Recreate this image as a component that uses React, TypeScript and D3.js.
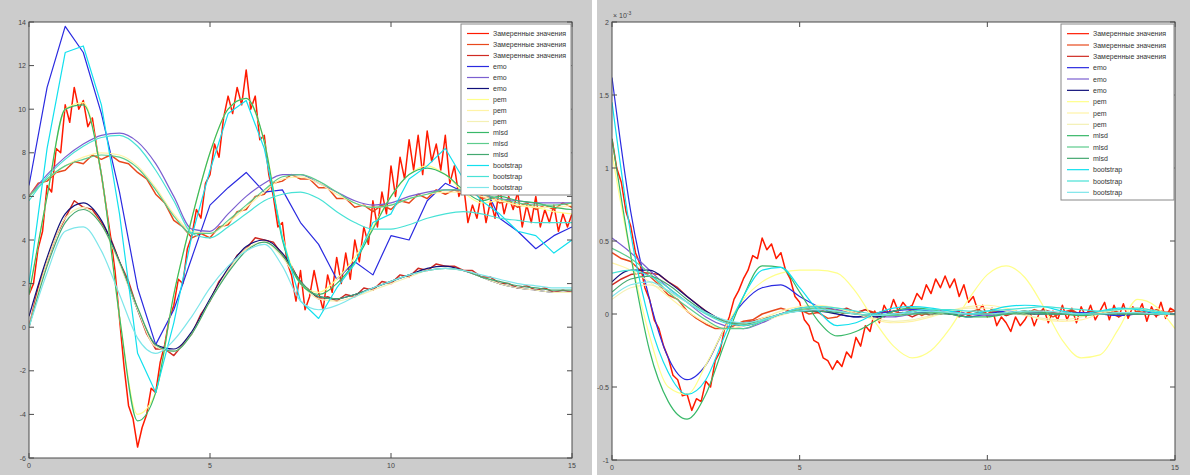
import { line, curveLinear, curveMonotoneX, scaleLinear } from 'd3'

// legend entries (same order as the plotted series)
const legendLabels = [
  'Замеренные значения',
  'Замеренные значения',
  'Замеренные значения',
  'emo',
  'emo',
  'emo',
  'pem',
  'pem',
  'pem',
  'mlsd',
  'mlsd',
  'mlsd',
  'bootstrap',
  'bootstrap',
  'bootstrap',
]

const seriesColors = [
  '#ff1a00',
  '#e8481c',
  '#cf2a22',
  '#2a2ae0',
  '#7b5fd0',
  '#10107a',
  '#ffff8a',
  '#fff3a6',
  '#f4f0b4',
  '#38b868',
  '#5ccc8c',
  '#44a870',
  '#12e0ee',
  '#48e2d6',
  '#7ee6ea',
]

const xTicks = [0, 5, 10, 15]
const leftYTicks = [-6, -4, -2, 0, 2, 4, 6, 8, 10, 12, 14]
const rightYTicks = [-1, -0.5, 0, 0.5, 1, 1.5, 2]

// measured values (left plot): A at step 0.125, B and C at step 0.25
const leftMeasA = [
  1.5, 2.0, 3.6, 4.4, 6.5, 6.2, 8.2, 8.0,
  10.2, 9.4, 11.0, 10.0, 10.4, 9.2, 9.6, 8.2,
  7.0, 5.6, 4.2, 2.6, 0.4, -1.8, -3.6, -4.2,
  -5.5, -4.6, -4.0, -2.8, -3.0, -1.6, -0.8, 0.4,
  1.0, 2.2, 2.0, 3.6, 4.2, 5.4, 5.0, 6.6,
  7.0, 8.4, 7.8, 9.6, 10.6, 9.8, 11.0, 10.2,
  11.8, 10.0, 10.6, 8.6, 8.8, 7.0, 6.0, 4.6,
  4.8, 3.0, 2.4, 1.2, 2.6, 0.8, 1.4, 2.6,
  1.6, 0.8, 2.4, 1.6, 3.2, 2.0, 3.4, 2.2,
  4.0, 3.0, 4.6, 3.8, 5.8, 4.6, 6.2, 5.2,
  7.4, 6.0, 7.8, 6.8, 8.6, 7.2, 8.8, 7.0,
  9.0, 7.6, 8.4, 7.2, 8.8, 6.6, 7.4, 6.0,
  6.6, 4.8, 5.6, 5.0, 6.2, 4.8, 5.8, 5.0,
  6.4, 5.2, 6.0, 5.4, 6.2, 4.6, 5.6, 4.8,
  6.0, 4.6, 5.4, 4.8, 5.6, 4.4, 5.2, 4.6,
  5.2,
]
const leftMeasB = [
  6.0, 6.6, 6.7, 7.1, 7.2, 7.6, 7.5, 7.9, 7.7, 7.9, 7.6, 7.5, 7.1, 6.8, 6.1, 5.7,
  4.9, 4.6, 4.1, 4.3, 4.1, 4.6, 4.7, 5.3, 5.4, 6.0, 6.1, 6.6, 6.7, 7.0, 6.8, 6.8,
  6.4, 6.4, 5.9, 5.9, 5.5, 5.6, 5.3, 5.6, 5.4, 5.8, 5.7, 6.1, 5.9, 6.3, 6.1, 6.3,
  6.1, 6.2, 5.9, 6.0, 5.7, 5.8, 5.5, 5.7, 5.4, 5.6, 5.4, 5.7, 5.5,
]
const leftMeasC = [
  0.0, 1.8, 3.0, 4.2, 5.0, 5.8, 5.5, 5.4, 4.8, 4.1, 3.0, 2.1, 0.8, -0.3, -1.0, -1.0,
  -1.3, -0.8, -0.3, 0.6, 1.2, 2.1, 2.6, 3.3, 3.6, 4.1, 4.0, 3.9, 3.3, 2.8, 2.0, 1.7,
  1.3, 1.4, 1.2, 1.5, 1.4, 1.8, 1.7, 2.1, 2.0, 2.4, 2.3, 2.7, 2.6, 2.9, 2.8, 2.8,
  2.6, 2.6, 2.3, 2.3, 2.0, 2.0, 1.8, 1.9, 1.7, 1.8, 1.6, 1.7, 1.6,
]

// model values, step 0.5 (left plot)
const leftEmoA = [6.5, 11, 13.8, 12.6, 9.8, 6.2, 1.8, -0.8, 0.8, 3.2, 5.6, 6.4, 7.1, 6.2, 6.3, 4.8, 3.8, 2.2, 3.0, 2.4, 4.2, 4.0, 5.8, 6.6, 6.2, 6.8, 5.0, 4.4, 3.6, 4.2, 4.6]
const leftEmoB = [6, 7, 7.8, 8.4, 8.8, 8.9, 8.5, 7.5, 6, 4.5, 4.4, 5.2, 6, 6.6, 7, 7, 6.6, 6.2, 5.8, 5.6, 5.7, 6, 6.2, 6.3, 6.3, 6.1, 5.9, 5.8, 5.7, 5.7, 5.7]
const leftEmoC = [0.5, 3.2, 5.2, 5.7, 4.9, 3, 0.8, -0.8, -1, -0.2, 1.3, 2.7, 3.7, 4, 3.4, 2.1, 1.4, 1.3, 1.5, 1.8, 2.1, 2.4, 2.7, 2.8, 2.6, 2.3, 2, 1.8, 1.7, 1.6, 1.6]
const leftPemA = [1.5, 6, 10, 10.3, 7, 0.5, -4, -3, 1.5, 5, 8, 10, 10.5, 8.5, 4.2, 2, 1.6, 2.2, 3.2, 4.6, 6, 7, 7.4, 7, 6.2, 5.7, 5.8, 5.6, 5.5, 5.3, 5.2]
const leftPemB = [6, 6.8, 7.4, 7.8, 8, 7.9, 7.4, 6.4, 5.2, 4.4, 4.3, 4.8, 5.5, 6.2, 6.8, 6.9, 6.6, 6.1, 5.7, 5.5, 5.6, 5.9, 6.1, 6.2, 6.2, 6.0, 5.8, 5.6, 5.5, 5.5, 5.6]
const leftPemC = [0, 3, 5, 5.5, 4.7, 2.9, 0.8, -0.9, -1.1, -0.3, 1.2, 2.6, 3.6, 3.9, 3.2, 2, 1.3, 1.2, 1.4, 1.7, 2, 2.3, 2.6, 2.7, 2.6, 2.3, 2, 1.8, 1.7, 1.6, 1.6]
const leftMlsdA = [1.5, 6, 10, 10.2, 7, 0.5, -4.3, -3, 1.5, 5, 8, 10, 10.5, 8.5, 4, 2, 1.5, 2, 3, 4.5, 6, 7, 7.3, 7, 6.3, 5.8, 6, 5.8, 5.7, 5.5, 5.4]
const leftMlsdB = [6, 6.8, 7.4, 7.7, 7.9, 7.8, 7.3, 6.3, 5.1, 4.3, 4.3, 4.9, 5.6, 6.3, 6.9, 7, 6.7, 6.2, 5.7, 5.5, 5.6, 5.9, 6.1, 6.3, 6.3, 6.1, 5.9, 5.7, 5.6, 5.6, 5.7]
const leftMlsdC = [0, 2.8, 4.8, 5.4, 4.7, 3, 0.9, -0.8, -1.1, -0.3, 1.2, 2.5, 3.5, 3.9, 3.3, 2.1, 1.4, 1.3, 1.5, 1.8, 2.1, 2.4, 2.6, 2.7, 2.6, 2.3, 2.1, 1.9, 1.8, 1.7, 1.7]
const leftBootA = [2, 8.2, 12.6, 12.9, 10.2, 5.2, -1.2, -3, 0.2, 4.2, 7.2, 9.8, 10.4, 8.2, 4.1, 1.2, 0.4, 1.8, 2.9, 4.8, 5.2, 6.8, 7.4, 8.2, 6.8, 5.8, 5.2, 4.4, 4.2, 3.4, 4]
const leftBootB = [5.8, 6.9, 7.7, 8.3, 8.7, 8.8, 8.3, 7.2, 5.8, 4.3, 4.1, 4.6, 5.2, 5.8, 6.1, 6.2, 5.9, 5.3, 4.8, 4.5, 4.5, 4.7, 5, 5.2, 5.3, 5.2, 5, 4.9, 4.8, 4.8, 4.8]
const leftBootC = [0, 2.5, 4.4, 4.6, 3.5, 1.5, -0.5, -1.2, -0.6, 0.5, 1.8, 2.8, 3.5, 3.8, 2.8, 1.2, 0.8, 1, 1.4, 1.8, 2.1, 2.4, 2.6, 2.7, 2.6, 2.4, 2.2, 2, 1.9, 1.8, 1.8]

// measured values (right plot, x 10^-3): A at step 0.125, B and C at step 0.25
const rightMeasA = [
  1.2, 1.0, 0.9, 0.7, 0.6, 0.42, 0.34, 0.18,
  0.1, -0.04, -0.1, -0.22, -0.3, -0.42, -0.45, -0.56,
  -0.55, -0.66, -0.58, -0.6, -0.46, -0.5, -0.32, -0.26,
  -0.1, -0.02, 0.1, 0.16, 0.24, 0.3, 0.4, 0.38,
  0.52, 0.44, 0.48, 0.38, 0.42, 0.3, 0.24, 0.12,
  0.08, -0.04, -0.08, -0.18, -0.2, -0.3, -0.32, -0.38,
  -0.32, -0.36, -0.26, -0.3, -0.16, -0.22, -0.08, -0.12,
  0.02, -0.06, 0.06, 0.0, 0.1, 0.02, 0.08, 0.04,
  0.06, 0.14, 0.1, 0.2, 0.14, 0.24, 0.18, 0.26,
  0.18, 0.24, 0.12, 0.2, 0.08, 0.12, 0.02, 0.06,
  -0.02, 0.04, -0.08, -0.02, -0.06, -0.12, -0.02, -0.08,
  -0.04, 0.02, -0.08, 0.0, 0.04, -0.06, 0.02, -0.04,
  0.06, -0.04, 0.04, -0.06, 0.05, -0.02, 0.06, -0.04,
  0.02, 0.08, -0.04, 0.06, -0.02, 0.07, -0.03, 0.05,
  0.0, 0.07, -0.05, 0.05, -0.02, 0.08, -0.03, 0.04,
  0.02,
]
const rightMeasB = [
  0.42, 0.38, 0.36, 0.3, 0.26, 0.2, 0.13, 0.1, 0.02, -0.03, -0.07, -0.1, -0.1, -0.08, -0.05, -0.04,
  0.0, 0.02, 0.04, 0.02, 0.03, 0.0, 0.01, -0.03, -0.02, 0.02, 0.0, 0.03, 0.01, -0.02, 0.02, 0.0,
  0.03, -0.01, 0.02, 0.0, 0.02, -0.02, 0.01, 0.03, 0.0, 0.03, -0.01, 0.02, 0.0, 0.03, 0.01, -0.02,
  0.01, 0.03, -0.01, 0.02, 0.0, 0.03, 0.01, -0.01, 0.02, 0.0, 0.03, 0.01, 0.02,
]
const rightMeasC = [
  0.2, 0.24, 0.27, 0.28, 0.28, 0.27, 0.22, 0.18, 0.12, 0.07, 0.02, -0.02, -0.05, -0.06, -0.06, -0.05,
  -0.03, -0.02, 0.0, 0.02, 0.02, 0.03, 0.01, 0.04, 0.02, 0.04, 0.01, 0.03, 0.0, 0.02, -0.01, 0.01,
  -0.02, 0.01, -0.01, 0.02, 0.0, 0.02, -0.01, 0.01, 0.0, 0.02, -0.01, 0.01, 0.02, 0.0, 0.03, 0.01,
  0.0, 0.02, -0.01, 0.02, 0.0, 0.01, -0.02, 0.01, 0.0, 0.02, -0.01, 0.01, 0.0,
]

// model values, step 0.5 (right plot, x 10^-3)
const rightEmoA = [1.62, 0.7, 0.1, -0.3, -0.45, -0.35, -0.1, 0.08, 0.18, 0.2, 0.12, 0.05, 0.0, -0.02, 0.0, 0.02, 0.03, 0.02, 0.0, -0.02, 0.0, 0.02, 0.01, 0.0, 0.0, 0.01, 0.0, -0.01, 0.0, 0.01, 0.0]
const rightEmoB = [0.52, 0.42, 0.3, 0.18, 0.08, -0.02, -0.08, -0.1, -0.06, 0.0, 0.04, 0.05, 0.03, 0.0, -0.02, -0.02, 0.0, 0.02, 0.02, 0.0, -0.01, 0.0, 0.01, 0.01, 0.0, 0.0, 0.0, 0.01, 0.0, 0.0, 0.0]
const rightEmoC = [0.22, 0.3, 0.3, 0.22, 0.12, 0.02, -0.05, -0.08, -0.05, 0.0, 0.02, 0.02, 0.0, -0.02, -0.02, 0.0, 0.01, 0.01, 0.0, 0.0, 0.0, 0.01, 0.0, 0.0, 0.0, 0.0, 0.0, 0.0, 0.0, 0.0, 0.0]
const rightPemA = [1.1, 0.4, -0.15, -0.5, -0.55, -0.35, -0.1, 0.1, 0.22, 0.28, 0.3, 0.3, 0.28, 0.15, -0.05, -0.22, -0.3, -0.25, -0.1, 0.1, 0.27, 0.33, 0.25, 0.05, -0.18, -0.3, -0.28, -0.1, 0.1, 0.05, -0.1]
const rightPemB = [0.35, 0.3, 0.22, 0.12, 0.02, -0.06, -0.1, -0.08, -0.03, 0.02, 0.05, 0.06, 0.04, 0.0, -0.04, -0.06, -0.05, -0.02, 0.02, 0.05, 0.06, 0.04, 0.0, -0.04, -0.05, -0.04, 0.0, 0.03, 0.04, 0.02, 0.0]
const rightPemC = [0.1, 0.18, 0.2, 0.15, 0.08, 0.0, -0.05, -0.07, -0.05, -0.01, 0.03, 0.05, 0.04, 0.01, -0.03, -0.05, -0.04, -0.01, 0.02, 0.04, 0.04, 0.02, -0.01, -0.03, -0.04, -0.02, 0.01, 0.03, 0.03, 0.01, -0.01]
const rightMlsdA = [1.2, 0.4, -0.25, -0.6, -0.72, -0.55, -0.2, 0.12, 0.33, 0.32, 0.15, -0.05, -0.15, -0.12, -0.05, 0.02, 0.04, 0.03, 0.0, -0.02, -0.02, 0.0, 0.02, 0.01, 0.0, -0.01, 0.0, 0.01, 0.0, 0.0, 0.0]
const rightMlsdB = [0.45, 0.38, 0.28, 0.15, 0.05, -0.04, -0.1, -0.1, -0.05, 0.0, 0.03, 0.04, 0.02, 0.0, -0.01, -0.01, 0.0, 0.01, 0.01, 0.0, 0.0, 0.0, 0.01, 0.0, 0.0, 0.0, 0.0, 0.0, 0.0, 0.0, 0.0]
const rightMlsdC = [0.15, 0.24, 0.26, 0.2, 0.1, 0.01, -0.05, -0.07, -0.04, 0.0, 0.02, 0.02, 0.01, 0.0, -0.01, 0.0, 0.0, 0.0, 0.0, 0.0, 0.0, 0.0, 0.0, 0.0, 0.0, 0.0, 0.0, 0.0, 0.0, 0.0, 0.0]
const rightBootA = [1.45, 0.55, -0.05, -0.4, -0.55, -0.45, -0.15, 0.12, 0.3, 0.32, 0.18, 0.02, -0.08, -0.06, 0.0, 0.04, 0.05, 0.04, 0.02, 0.0, 0.02, 0.05, 0.06, 0.05, 0.02, 0.0, 0.02, 0.04, 0.03, 0.01, 0.0]
const rightBootB = [0.28, 0.3, 0.26, 0.18, 0.08, 0.0, -0.06, -0.08, -0.05, 0.0, 0.04, 0.05, 0.04, 0.02, 0.0, 0.0, 0.02, 0.03, 0.03, 0.02, 0.02, 0.03, 0.04, 0.05, 0.04, 0.03, 0.02, 0.03, 0.04, 0.02, 0.0]
const rightBootC = [0.12, 0.2, 0.22, 0.16, 0.08, 0.01, -0.04, -0.06, -0.04, 0.0, 0.02, 0.03, 0.02, 0.0, -0.01, 0.0, 0.01, 0.02, 0.01, 0.0, 0.0, 0.01, 0.02, 0.02, 0.01, 0.0, 0.0, 0.01, 0.01, 0.0, 0.0]

const leftSeries = [
  leftMeasA, leftMeasB, leftMeasC,
  leftEmoA, leftEmoB, leftEmoC,
  leftPemA, leftPemB, leftPemC,
  leftMlsdA, leftMlsdB, leftMlsdC,
  leftBootA, leftBootB, leftBootC,
]
const rightSeries = [
  rightMeasA, rightMeasB, rightMeasC,
  rightEmoA, rightEmoB, rightEmoC,
  rightPemA, rightPemB, rightPemC,
  rightMlsdA, rightMlsdB, rightMlsdC,
  rightBootA, rightBootB, rightBootC,
]

const width = 1190
const height = 475
const font = '"Liberation Sans", Arial, sans-serif'
const axisColor = '#4a4a4a'

type PanelProps = {
  id: string
  figX: number
  figWidth: number
  left: number
  right: number
  top: number
  bottom: number
  yDomain: [number, number]
  yTicks: number[]
  series: number[][]
  jagged: number[]
  exponent?: string
  legendWidth: number
  legendHeight: number
}

function Panel({
  id,
  figX,
  figWidth,
  left,
  right,
  top,
  bottom,
  yDomain,
  yTicks,
  series,
  jagged,
  exponent,
  legendWidth,
  legendHeight,
}: PanelProps) {
  const xScale = scaleLinear().domain([0, 15]).range([left, right])
  const yScale = scaleLinear().domain(yDomain).range([bottom, top])

  const legendX = right - legendWidth - 1
  const legendY = top + 2
  const rowHeight = (legendHeight - 6) / legendLabels.length

  return (
    <g>
      <rect x={figX} y={0} width={figWidth} height={height} fill="#cccccc" />
      <rect x={left} y={top} width={right - left} height={bottom - top} fill="#ffffff" />

      <defs>
        <clipPath id={`clip-${id}`}>
          <rect x={left} y={top} width={right - left} height={bottom - top} />
        </clipPath>
      </defs>

      <g clipPath={`url(#clip-${id})`}>
        {series.map((values, index) => {
          const step = 15 / (values.length - 1)
          const rough = values.length > 31 || jagged.includes(index)
          const path = line<number>()
            .x((_, i) => xScale(i * step))
            .y((v) => yScale(v))
            .curve(rough ? curveLinear : curveMonotoneX)
          return (
            <path
              key={index}
              d={path(values) ?? ''}
              fill="none"
              stroke={seriesColors[index]}
              strokeWidth={index < 3 ? 1.5 : 1.2}
              strokeLinejoin="round"
            />
          )
        })}
      </g>

      <rect
        x={left}
        y={top}
        width={right - left}
        height={bottom - top}
        fill="none"
        stroke={axisColor}
        strokeWidth={1}
      />

      {xTicks.map((tick) => (
        <g key={`x${tick}`}>
          <line x1={xScale(tick)} x2={xScale(tick)} y1={bottom} y2={bottom - 5} stroke={axisColor} />
          <line x1={xScale(tick)} x2={xScale(tick)} y1={top} y2={top + 5} stroke={axisColor} />
          <text
            x={xScale(tick)}
            y={bottom + 10}
            textAnchor="middle"
            fontSize={7}
            fontFamily={font}
            fill="#444"
          >
            {tick}
          </text>
        </g>
      ))}

      {yTicks.map((tick) => (
        <g key={`y${tick}`}>
          <line x1={left} x2={left + 5} y1={yScale(tick)} y2={yScale(tick)} stroke={axisColor} />
          <line x1={right} x2={right - 5} y1={yScale(tick)} y2={yScale(tick)} stroke={axisColor} />
          <text
            x={left - 3}
            y={yScale(tick) + 2.5}
            textAnchor="end"
            fontSize={7}
            fontFamily={font}
            fill="#444"
          >
            {tick}
          </text>
        </g>
      ))}

      {exponent ? (
        <text x={left + 1} y={top - 4} fontSize={7} fontFamily={font} fill="#444">
          × 10
          <tspan dy={-3} fontSize={5}>
            {exponent}
          </tspan>
        </text>
      ) : null}

      <rect
        x={legendX}
        y={legendY}
        width={legendWidth}
        height={legendHeight}
        fill="#ffffff"
        stroke="#888"
        strokeWidth={1}
      />
      {legendLabels.map((label, index) => {
        const cy = legendY + 4 + rowHeight * (index + 0.5)
        return (
          <g key={index}>
            <line
              x1={legendX + 6}
              x2={legendX + 28}
              y1={cy}
              y2={cy}
              stroke={seriesColors[index]}
              strokeWidth={1.2}
            />
            <text
              x={legendX + 32}
              y={cy + 2.5}
              fontSize={7}
              fontFamily={font}
              fill="#333"
            >
              {label}
            </text>
          </g>
        )
      })}
    </g>
  )
}

export default function App() {
  return (
    <svg
      width={width}
      height={height}
      viewBox={`0 0 ${width} ${height}`}
      style={{ position: 'absolute', left: 0, top: 0, display: 'block' }}
    >
      <rect x={0} y={0} width={width} height={height} fill="#ffffff" />
      <Panel
        id="left"
        figX={0}
        figWidth={592}
        left={29}
        right={572}
        top={22}
        bottom={458}
        yDomain={[-6, 14]}
        yTicks={leftYTicks}
        series={leftSeries}
        jagged={[3, 12]}
        legendWidth={110}
        legendHeight={171}
      />
      <Panel
        id="right"
        figX={597}
        figWidth={593}
        left={612}
        right={1175}
        top={22}
        bottom={460}
        yDomain={[-1, 2]}
        yTicks={rightYTicks}
        series={rightSeries}
        jagged={[]}
        exponent="-3"
        legendWidth={113}
        legendHeight={176}
      />
    </svg>
  )
}
